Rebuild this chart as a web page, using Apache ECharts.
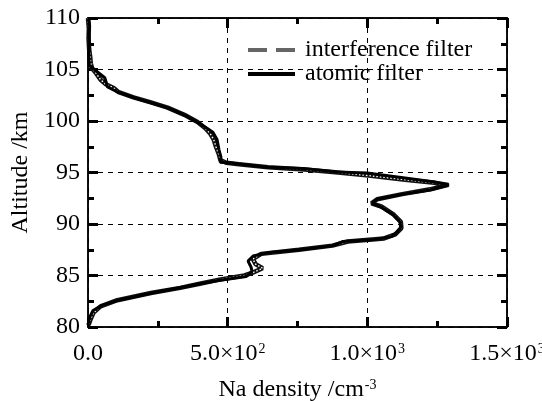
<!DOCTYPE html>
<html><head><meta charset="utf-8">
<script src="https://cdn.jsdelivr.net/npm/echarts@6/dist/echarts.min.js"></script>
<style>html,body{margin:0;padding:0;background:#fff}#c{width:542px;height:401px}</style>
</head><body><div id="c"></div>
<script>
// Atomic filter profile
var altA = [110, 109.2, 108.5, 107.5, 106.6, 105.8, 105.4, 104.95, 104.2, 103.3, 102.8, 102.3, 101.8, 101.3, 100.65, 99.9, 99.3, 98.9, 98.2, 97.2, 96.5, 96.0, 95.9, 95.5, 95.4, 95.05, 94.95, 94.5, 94.1, 93.8, 93.3, 92.9, 92.4, 92.0, 91.7, 90.9, 90.2, 89.7, 89.2, 88.8, 88.5, 88.3, 87.9, 87.5, 87.2, 86.9, 86.4, 85.8, 85.4, 84.9, 84.5, 84.2, 83.9, 83.3, 82.6, 82.1, 81.6, 81.0, 80.2];
var densA = [2, 6, 3, 5, 2, 4, 4, 25, 60, 70, 107, 161, 222, 283, 340, 390, 426, 447, 462, 469, 476, 473, 519, 641, 770, 891, 999, 1128, 1235, 1292, 1224, 1128, 1035, 1017, 1045, 1092, 1117, 1120, 1106, 1088, 1027, 913, 877, 759, 641, 591, 573, 584, 587, 566, 462, 401, 347, 229, 107, 50, 18, 7, 0];
// Interference filter profile
var altI = [110, 109, 108, 107, 106.2, 105.6, 105.1, 104.6, 104.0, 103.6, 103.2, 102.8, 102.3, 101.8, 101.3, 100.6, 99.9, 99.3, 98.8, 98.2, 97.5, 96.8, 96.2, 95.95, 95.8, 95.5, 95.3, 95.0, 94.7, 94.3, 94.0, 93.8, 93.4, 92.9, 92.4, 92.0, 91.7, 90.9, 90.2, 89.6, 89.0, 88.6, 88.3, 87.9, 87.5, 87.1, 86.6, 86.1, 85.7, 85.3, 85.0, 84.6, 84.2, 83.8, 83.3, 82.6, 82.0, 81.4, 80.8, 80.2];
var densI = [0, 3, 2, 4, 8, 10, 15, 30, 45, 62, 92, 110, 163, 225, 285, 345, 392, 420, 437, 450, 458, 468, 474, 495, 540, 645, 775, 895, 1005, 1135, 1240, 1290, 1230, 1125, 1035, 1015, 1050, 1095, 1120, 1122, 1100, 1060, 930, 875, 755, 620, 590, 600, 625, 592, 560, 470, 400, 330, 225, 105, 45, 20, 10, 2];
var xTickLabels = {0: ['0.0', ''], 500: ['5.0\u00D710', '2'], 1000: ['1.0\u00D710', '3'], 1500: ['1.5\u00D710', '3']};
var yTicks = [80, 85, 90, 95, 100, 105, 110];
var seriesNames = ['interference filter', 'atomic filter'];

function pairs(xs, ys) { return xs.map(function (x, i) { return [x, ys[i]]; }); }
var FONT = 'Liberation Serif';
var FS = 24;
function tick(len) { return {show: true, inside: true, length: len, lineStyle: {color: '#000', width: 3}}; }
function split() { return {show: true, lineStyle: {color: '#000', width: 1, type: [5, 5]}}; }
function aline() { return {show: true, onZero: false, lineStyle: {color: '#000', width: 1.5}}; }
function rich() {
  return {
    b: {fontFamily: FONT, fontSize: FS, color: '#000'},
    s: {fontFamily: FONT, fontSize: 14, color: '#000', verticalAlign: 'top', padding: [0, 0, 10, 1]}
  };
}
function tickAxisX(pos, iv, len) {
  return {type: 'value', min: 0, max: 1500, interval: iv, position: pos,
    axisLine: aline(), axisTick: tick(len), minorTick: {show: false}, splitLine: {show: false},
    axisLabel: {show: false}};
}
function tickAxisY(pos, iv, len) {
  return {type: 'value', min: 80, max: 110, interval: iv, position: pos,
    axisLine: aline(), axisTick: tick(len), minorTick: {show: false}, splitLine: {show: false},
    axisLabel: {show: false}};
}
var chart = echarts.init(document.getElementById('c'), null, {renderer: 'canvas'});
chart.setOption({
  animation: false,
  backgroundColor: '#fff',
  grid: {left: 88, right: 35, top: 18, bottom: 74, containLabel: false, outerBoundsMode: 'none'},
  legend: {
    orient: 'vertical', left: 248, top: 38, padding: 0, itemWidth: 47, itemHeight: 4, itemGap: 0,
    textStyle: {fontFamily: FONT, fontSize: FS, color: '#000', lineHeight: 23, padding: [0, 0, 0, 5]},
    data: [
      {name: seriesNames[0], icon: 'path://M0,0H19V4H0Z M28,0H47V4H28Z', itemStyle: {color: '#666'}},
      {name: seriesNames[1], icon: 'rect', itemStyle: {color: '#000'}}
    ]
  },
  xAxis: [{
    type: 'value', min: 0, max: 1500, interval: 500, position: 'bottom',
    axisLine: aline(), axisTick: tick(10), minorTick: {show: false}, splitLine: split(),
    axisLabel: {
      margin: 15, color: '#000', fontFamily: FONT, fontSize: FS,
      formatter: function (v) {
        var l = xTickLabels[v]; if (!l) return '';
        return l[1] ? '{b|' + l[0] + '}{s|' + l[1] + '}' : '{b|' + l[0] + '}';
      },
      rich: rich()
    },
    name: '{b|Na density /cm}{s|-3}', nameLocation: 'middle', nameGap: 51,
    nameTextStyle: {rich: rich()}
  },
    tickAxisX('top', 500, 10),
    tickAxisX('bottom', 250, 6),
    tickAxisX('top', 250, 6)
  ],
  yAxis: [{
    type: 'value', min: 80, max: 110, interval: 5, position: 'left',
    axisLine: aline(), axisTick: tick(10), minorTick: {show: false}, splitLine: split(),
    axisLabel: {margin: 8, color: '#000', fontFamily: FONT, fontSize: FS,
      formatter: function (v) { return yTicks.indexOf(v) >= 0 ? String(v) : ''; }},
    name: 'Altitude /km', nameLocation: 'middle', nameGap: 51, nameRotate: 90,
    nameTextStyle: {fontFamily: FONT, fontSize: FS, color: '#000'}
  },
    tickAxisY('right', 5, 10),
    tickAxisY('left', 2.5, 6),
    tickAxisY('right', 2.5, 6)
  ],
  series: [{
    name: seriesNames[0], type: 'line', data: pairs(densI, altI), symbol: 'none', showSymbol: false,
    lineStyle: {color: '#111', width: 4.5}, itemStyle: {color: '#666'}, z: 3, silent: true
  }, {
    name: 'interference dots', type: 'line', data: pairs(densI, altI), symbol: 'none', showSymbol: false,
    lineStyle: {color: '#fff', width: 1.4, type: [1.5, 2]}, z: 4, silent: true
  }, {
    name: seriesNames[1], type: 'line', data: pairs(densA, altA), symbol: 'none', showSymbol: false,
    lineStyle: {color: '#000', width: 3}, itemStyle: {color: '#000'}, z: 5, silent: true
  }]
});
</script></body></html>
